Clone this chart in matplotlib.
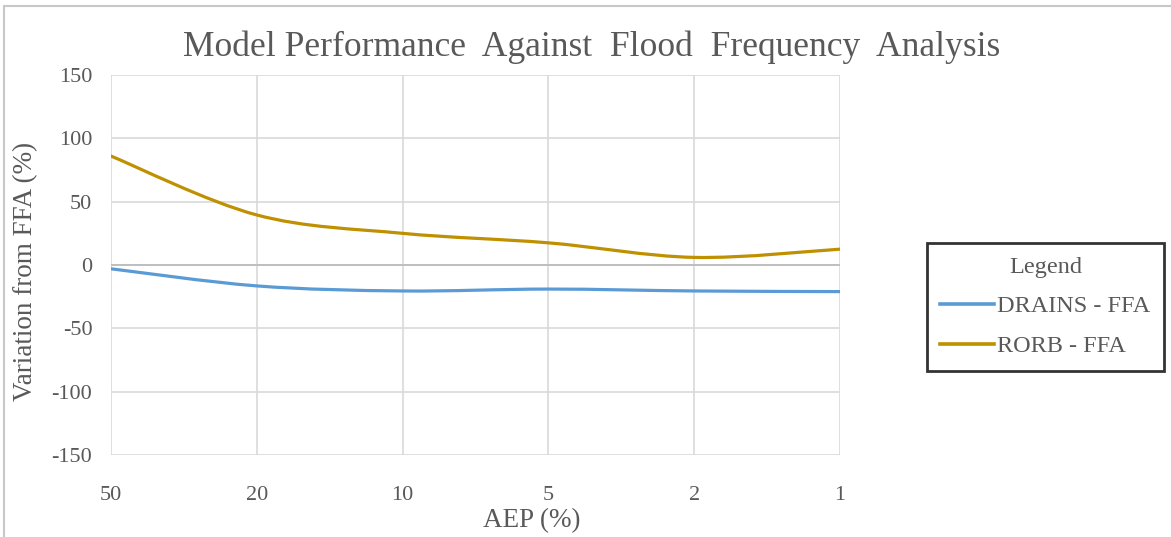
import numpy as np
import matplotlib
matplotlib.use("Agg")
import matplotlib.pyplot as plt
from matplotlib.path import Path
from matplotlib.patches import PathPatch, Rectangle
from matplotlib.lines import Line2D

# ==========================================
# Data
# ==========================================
aep_labels = ["50", "20", "10", "5", "2", "1"]
drains_ffa = [-3, -16.5, -20.5, -19, -20.5, -21]
rorb_ffa = [86, 39.5, 25, 17.5, 6, 12.5]

series_names = ["DRAINS - FFA", "RORB - FFA"]
series_colors = ["#5B9BD5", "#BF9000"]

TEXT_GREY = "#595959"
GRID_GREY = "#D9D9D9"

plt.rcParams["font.family"] = ["Liberation Serif", "DejaVu Serif"]
plt.rcParams["axes.unicode_minus"] = False


def smooth_path(xs, ys):
    # Excel-style smoothed line: cubic Bezier segments (Catmull-Rom, tension 1/6)
    pts = np.column_stack([xs, ys]).astype(float)
    n = len(pts)
    verts = [pts[0]]
    codes = [Path.MOVETO]
    for i in range(n - 1):
        p0 = pts[i - 1] if i > 0 else pts[i]
        p1 = pts[i]
        p2 = pts[i + 1]
        p3 = pts[i + 2] if i + 2 < n else pts[i + 1]
        c1 = p1 + (p2 - p0) / 6.0
        c2 = p2 - (p3 - p1) / 6.0
        verts += [c1, c2, p2]
        codes += [Path.CURVE4] * 3
    return Path(verts, codes)


fig = plt.figure(figsize=(11.71, 5.37), dpi=100)
ax = fig.add_axes([111 / 1171, 1 - 455 / 537, 729 / 1171, 380 / 537])

x = np.arange(len(aep_labels))
for vals, col in zip([drains_ffa, rorb_ffa], series_colors):
    ax.add_patch(PathPatch(smooth_path(x, vals), facecolor="none",
                           edgecolor=col, lw=2.3, capstyle="round", zorder=3))

ax.set_xlim(0, len(aep_labels) - 1)
ax.set_ylim(-150, 150)
ax.set_xticks(x)
ax.set_xticklabels(aep_labels)
ax.set_yticks(np.arange(-150, 151, 50))
ax.grid(True, color=GRID_GREY, lw=1.2)
ax.set_axisbelow(True)
ax.axhline(0, color="#BFBFBF", lw=1.4, zorder=2)
for s in ax.spines.values():
    s.set_visible(False)
ax.tick_params(length=0, labelsize=16, colors=TEXT_GREY)
ax.tick_params(axis="y", pad=13.5)
ax.tick_params(axis="x", pad=22)

ax.set_xlabel("AEP (%)", fontsize=19.5, color=TEXT_GREY)
ax.xaxis.set_label_coords((532 - 111) / 729, (455 - 508) / 380)
ax.set_ylabel("Variation from FFA (%)", fontsize=19.5, color=TEXT_GREY)
ax.yaxis.set_label_coords((38 - 111) / 729, (455 - 271) / 380)

fig.text(0.505, 1 - 47 / 537, "Model Performance  Against  Flood  Frequency  Analysis",
         ha="center", va="center", fontsize=25.6, color=TEXT_GREY)

handles = [Line2D([], [], color=c, lw=2.6) for c in series_colors]
leg = fig.legend(handles, series_names, title="Legend", loc="center",
                 bbox_to_anchor=(1045.5 / 1171, 1 - 307 / 537),
                 fontsize=17.5, title_fontsize=17.5, frameon=True, fancybox=False,
                 handlelength=2.2, handletextpad=0.15, borderpad=0.55,
                 labelspacing=0.74, borderaxespad=0, alignment="center")
leg.get_frame().set_edgecolor("black")
leg.get_frame().set_linewidth(2)
for t in leg.get_texts():
    t.set_color(TEXT_GREY)
leg.get_title().set_color(TEXT_GREY)

# outer chart-area border (cropped on right/bottom)
fig.patches.append(Rectangle((4 / 1171, -0.05), 1.1, 1 - 6 / 537 + 0.05,
                             transform=fig.transFigure, fill=False,
                             edgecolor="#C8C8C8", lw=1.5))

fig.savefig("out.png", dpi=100)
